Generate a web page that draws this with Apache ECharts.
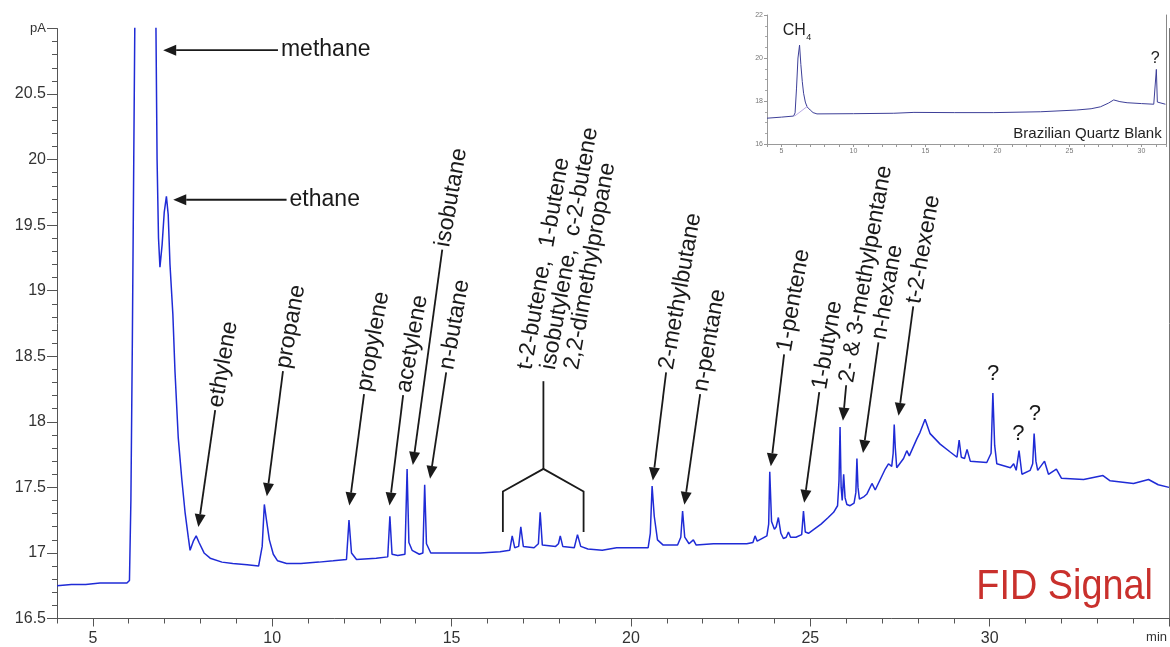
<!DOCTYPE html>
<html>
<head>
<meta charset="utf-8">
<script src="https://cdn.jsdelivr.net/npm/echarts@6/dist/echarts.min.js"></script>
<style>
  html, body { margin: 0; padding: 0; background: #fff; }
  #chart { width: 1170px; height: 647px; }
</style>
</head>
<body>
<div id="chart"></div>
<script>
const FONT = '"Liberation Sans", Arial, Helvetica, sans-serif';

// FID chromatogram: retention time (min) and detector signal (pA)
const fidTime = [
  4.0, 4.4, 4.8, 5.2, 5.6, 5.95, 6.02, 6.06, 6.1, 6.14, 6.18, 6.45, 6.74, 6.79, 6.83, 6.87, 6.93, 6.99,
  7.05, 7.1, 7.15, 7.23, 7.29, 7.38, 7.48, 7.57, 7.66, 7.71, 7.8, 7.88, 7.96, 8.1, 8.27, 8.6, 8.9, 9.3,
  9.62, 9.72, 9.78, 9.84, 9.92, 10.03, 10.15, 10.4, 10.8, 11.3, 11.7, 12.07, 12.14, 12.21, 12.35, 12.9,
  13.22, 13.28, 13.34, 13.5, 13.7, 13.76, 13.81, 13.9, 14.1, 14.2, 14.25, 14.3, 14.42, 14.8, 15.3, 15.8,
  16.35, 16.62, 16.69, 16.76, 16.87, 16.93, 17.0, 17.3, 17.42, 17.47, 17.53, 17.9, 17.98, 18.03, 18.1,
  18.42, 18.51, 18.6, 18.8, 19.2, 19.6, 20.0, 20.48, 20.54, 20.59, 20.65, 20.74, 20.9, 21.3, 21.39, 21.44,
  21.5, 21.62, 21.74, 21.82, 22.3, 22.8, 23.23, 23.4, 23.46, 23.52, 23.79, 23.84, 23.87, 23.92, 24.0,
  24.05, 24.11, 24.18, 24.25, 24.33, 24.39, 24.45, 24.6, 24.76, 24.81, 24.86, 24.95, 25.1, 25.3, 25.5,
  25.65, 25.76, 25.8, 25.83, 25.86, 25.89, 25.93, 25.97, 26.02, 26.11, 26.22, 26.27, 26.3, 26.33, 26.37,
  26.5, 26.58, 26.72, 26.81, 26.95, 27.09, 27.18, 27.27, 27.31, 27.34, 27.37, 27.41, 27.6, 27.69, 27.76,
  27.97, 28.06, 28.2, 28.34, 28.62, 28.9, 29.09, 29.15, 29.21, 29.3, 29.37, 29.46, 29.92, 30.04, 30.09,
  30.14, 30.2, 30.58, 30.67, 30.74, 30.82, 30.9, 31.13, 31.2, 31.24, 31.29, 31.34, 31.53, 31.64, 31.86,
  32.0, 32.62, 33.16, 33.36, 34.01, 34.43, 34.7, 35.0
];
const fidSignal = [
  16.75, 16.76, 16.76, 16.77, 16.77, 16.77, 16.79, 17.4, 18.6, 20.0, 21.4, 26.0, 21.6, 20.0, 19.4, 19.18, 19.35, 19.6,
  19.72, 19.58, 19.2, 18.82, 18.38, 17.88, 17.56, 17.31, 17.12, 17.02, 17.09, 17.13, 17.08, 17.0, 16.96, 16.93, 16.92, 16.91,
  16.9, 17.05, 17.37, 17.25, 17.1, 16.99, 16.94, 16.92, 16.92, 16.93, 16.94, 16.95, 17.25, 17.0, 16.95, 16.96,
  16.97, 17.28, 16.99, 16.98, 16.99, 17.64, 17.08, 17.02, 16.99, 17.0, 17.52, 17.07, 17.0, 17.0, 17.0, 17.0,
  17.01, 17.02, 17.13, 17.04, 17.05, 17.2, 17.05, 17.04, 17.07, 17.31, 17.06, 17.05, 17.07, 17.13, 17.05,
  17.04, 17.14, 17.05, 17.03, 17.02, 17.04, 17.04, 17.04, 17.15, 17.51, 17.28, 17.1, 17.06, 17.06, 17.12, 17.32,
  17.12, 17.07, 17.1, 17.06, 17.07, 17.07, 17.07, 17.08, 17.13, 17.09, 17.13, 17.22, 17.62, 17.24, 17.18,
  17.2, 17.27, 17.15, 17.11, 17.12, 17.16, 17.12, 17.12, 17.14, 17.32, 17.16, 17.15, 17.18, 17.22, 17.27,
  17.31, 17.36, 17.55, 17.96, 17.5, 17.4, 17.6, 17.42, 17.37, 17.36, 17.38, 17.46, 17.72, 17.5, 17.41,
  17.43, 17.45, 17.53, 17.48, 17.56, 17.64, 17.68, 17.66, 17.76, 17.98, 17.8, 17.65, 17.72, 17.78, 17.74,
  17.87, 17.92, 18.02, 17.91, 17.83, 17.77, 17.73, 17.86, 17.73, 17.72, 17.79, 17.7, 17.69, 17.76, 18.22,
  17.82, 17.68, 17.65, 17.68, 17.63, 17.78, 17.6, 17.63, 17.68, 17.91, 17.7, 17.63, 17.7, 17.6, 17.64,
  17.57, 17.56, 17.59, 17.55, 17.53, 17.56, 17.52, 17.5
];

// Blank run on Brazilian quartz
const blankTime = [
  4.0, 5.0, 5.85, 5.95, 6.05, 6.15, 6.26, 6.35, 6.45, 6.54, 6.66, 6.78, 7.0, 7.2, 7.47, 10.0, 12.8, 14.2,
  17.0, 19.74, 23.0, 25.5, 26.5, 27.15, 27.7, 28.07, 28.5, 29.0, 30.0, 30.85, 30.98, 31.03, 31.1, 31.2, 31.66
];
const blankSignal = [
  17.2, 17.25, 17.3, 17.45, 18.6, 20.0, 20.6, 19.7, 18.9, 18.36, 17.95, 17.73, 17.58, 17.46, 17.4, 17.41, 17.43, 17.47,
  17.46, 17.46, 17.5, 17.58, 17.64, 17.73, 17.9, 18.05, 17.97, 17.92, 17.88, 17.85, 17.9, 19.47, 17.95, 17.86, 17.85
];
// integration baseline under the CH4 peak of the blank
const blankBaseTime = [5.92, 6.84];
const blankBaseSignal = [17.3, 17.77];

const mainMajorTicks = [5, 10, 15, 20, 25, 30, 35];
const mainTickLabels = [5, 10, 15, 20, 25, 30];

const zip = (xs, ys) => xs.map((x, i) => [x, ys[i]]);

// Peak annotations: arrow from tail to tip, both in (min, pA)
const peakLabels = [
  { text: 'methane', tail: [10.16, 20.835], tip: [6.96, 20.835], angle: 0 },
  { text: 'ethane', tail: [10.40, 19.694], tip: [7.24, 19.694], angle: 0 },
  { text: 'ethylene', tail: [8.41, 18.09], tip: [7.94, 17.197], angle: 80 },
  { text: 'propane', tail: [10.30, 18.386], tip: [9.85, 17.433], angle: 80 },
  { text: 'propylene', tail: [12.56, 18.211], tip: [12.15, 17.362], angle: 80 },
  { text: 'acetylene', tail: [13.65, 18.203], tip: [13.27, 17.362], angle: 80 },
  { text: 'isobutane', tail: [14.74, 19.314], tip: [13.92, 17.671], angle: 80 },
  { text: 'n-butane', tail: [14.85, 18.378], tip: [14.40, 17.565], angle: 80 },
  { text: '2-methylbutane', tail: [20.98, 18.378], tip: [20.61, 17.552], angle: 80 },
  { text: 'n-pentane', tail: [21.93, 18.211], tip: [21.49, 17.367], angle: 80 },
  { text: '1-pentene', tail: [24.27, 18.515], tip: [23.90, 17.661], angle: 80 },
  { text: '1-butyne', tail: [25.25, 18.226], tip: [24.83, 17.382], angle: 80 },
  { text: '2- & 3-methylpentane', tail: [26.00, 18.279], tip: [25.91, 18.008], angle: 80 },
  { text: 'n-hexane', tail: [26.90, 18.606], tip: [26.47, 17.762], angle: 80 },
  { text: 't-2-hexene', tail: [27.87, 18.88], tip: [27.46, 18.046], angle: 80 }
];
const butenesLines = [
  { text: 't-2-butene,  1-butene', at: [17.05, 18.40] },
  { text: 'isobutylene,  c-2-butene', at: [17.70, 18.40] },
  { text: '2,2-dimethylpropane', at: [18.35, 18.40] }
];
const butenesBracket = [[16.43, 17.16], [16.43, 17.468], [17.56, 17.641], [18.68, 17.468], [18.68, 17.16]];
const butenesStem = [[17.56, 17.641], [17.56, 18.31]];
const unknownMarks = [[30.10, 18.363], [30.80, 17.907], [31.26, 18.059]];

const axisGray = '#555';
const option = {
  animation: false,
  backgroundColor: '#fff',
  grid: [
    { left: 57, right: 1, top: 28.5, bottom: 28.5 },
    { left: 767, right: 4, top: 15, bottom: 503 }
  ],
  xAxis: [
    { // minor minute ticks
      gridIndex: 0, type: 'value', position: 'bottom', min: 4, max: 35, interval: 1,
      axisLine: { show: true, lineStyle: { color: axisGray, width: 1 } },
      axisTick: { show: true, length: 5, lineStyle: { color: axisGray } },
      axisLabel: { show: false }, splitLine: { show: false }
    },
    { // major ticks with labels
      gridIndex: 0, type: 'value', position: 'bottom', min: 4, max: 35,
      axisLine: { show: false },
      axisTick: { show: true, length: 8, customValues: mainMajorTicks, lineStyle: { color: axisGray } },
      axisLabel: { show: true, customValues: mainTickLabels, fontSize: 16, color: '#333', margin: 12, fontFamily: FONT },
      splitLine: { show: false }
    },
    { // blank inset
      gridIndex: 1, type: 'value', position: 'bottom', min: 4, max: 31.7, interval: 1,
      axisLine: { show: true, lineStyle: { color: '#999', width: 1 } },
      axisTick: { show: true, length: 3, lineStyle: { color: '#999' } },
      axisLabel: { fontSize: 7, color: '#777', margin: 4, fontFamily: FONT,
        formatter: v => (v % 5 === 0 ? String(v) : '') },
      splitLine: { show: false }
    }
  ],
  yAxis: [
    {
      gridIndex: 0, type: 'value', position: 'left', min: 16.5, max: 21, interval: 0.5,
      axisLine: { show: true, lineStyle: { color: axisGray, width: 1 } },
      axisTick: { show: true, length: 10, lineStyle: { color: axisGray } },
      minorTick: { show: true, splitNumber: 5, length: 5, lineStyle: { color: axisGray } },
      axisLabel: {
        fontSize: 16, color: '#333', margin: 11, fontFamily: FONT,
        formatter: v => (v === 21 ? '{u|pA}' : String(v)),
        rich: { u: { fontSize: 13, color: '#333', fontFamily: FONT } }
      },
      splitLine: { show: false }
    },
    {
      gridIndex: 0, type: 'value', position: 'right', min: 16.5, max: 21,
      axisLine: { show: true, lineStyle: { color: '#777', width: 1 } },
      axisTick: { show: false }, axisLabel: { show: false }, splitLine: { show: false }
    },
    {
      gridIndex: 1, type: 'value', position: 'left', min: 16, max: 22, interval: 2,
      axisLine: { show: true, lineStyle: { color: '#999', width: 1 } },
      axisTick: { show: true, length: 3, lineStyle: { color: '#999' } },
      minorTick: { show: true, splitNumber: 4, length: 2, lineStyle: { color: '#aaa' } },
      axisLabel: { fontSize: 7, color: '#777', margin: 4, fontFamily: FONT },
      splitLine: { show: false }
    },
    {
      gridIndex: 1, type: 'value', position: 'right', min: 16, max: 22,
      axisLine: { show: true, lineStyle: { color: '#888', width: 1 } },
      axisTick: { show: false }, axisLabel: { show: false }, splitLine: { show: false }
    }
  ],
  series: [
    {
      name: 'FID Signal', type: 'line', xAxisIndex: 0, yAxisIndex: 0,
      data: zip(fidTime, fidSignal), symbol: 'none', clip: true, z: 3,
      lineStyle: { color: '#1f2bd6', width: 1.5 }
    },
    {
      name: 'Brazilian Quartz Blank', type: 'line', xAxisIndex: 2, yAxisIndex: 2,
      data: zip(blankTime, blankSignal), symbol: 'none', clip: true,
      lineStyle: { color: '#3d3f98', width: 1 }
    },
    {
      name: 'blank baseline', type: 'line', xAxisIndex: 2, yAxisIndex: 2,
      data: zip(blankBaseTime, blankBaseSignal), symbol: 'none',
      lineStyle: { color: '#b9a9e6', width: 1 }
    }
  ]
};

const chart = echarts.init(document.getElementById('chart'), null, { renderer: 'canvas' });
chart.setOption(option);

const toMain = p => chart.convertToPixel({ seriesIndex: 0 }, p);
const toInset = p => chart.convertToPixel({ seriesIndex: 1 }, p);
const ink = '#1a1a1a';
const graphics = [];

function addArrow(tail, tip) {
  const dx = tip[0] - tail[0], dy = tip[1] - tail[1];
  const len = Math.hypot(dx, dy);
  const ux = dx / len, uy = dy / len;
  const head = 13, half = 5.5;
  const bx = tip[0] - ux * head, by = tip[1] - uy * head;
  graphics.push({
    type: 'line', silent: true,
    shape: { x1: tail[0], y1: tail[1], x2: bx, y2: by },
    style: { stroke: ink, lineWidth: 1.8 }
  });
  graphics.push({
    type: 'polygon', silent: true,
    shape: { points: [[tip[0], tip[1]], [bx - uy * half, by + ux * half], [bx + uy * half, by - ux * half]] },
    style: { fill: ink }
  });
}

function addRotatedText(text, start, angleDeg, size, gap) {
  const a = angleDeg * Math.PI / 180;
  graphics.push({
    type: 'text', silent: true,
    x: start[0] + Math.cos(a) * gap, y: start[1] - Math.sin(a) * gap, rotation: a,
    style: { text, font: `${size}px ${FONT}`, fill: ink, align: 'left', verticalAlign: 'middle' }
  });
}

peakLabels.forEach(p => {
  const tail = toMain(p.tail), tip = toMain(p.tip);
  addArrow(tail, tip);
  addRotatedText(p.text, tail, p.angle, 23, 3);
});

butenesLines.forEach(l => addRotatedText(l.text, toMain(l.at), 80, 23, 0));
graphics.push({
  type: 'polyline', silent: true,
  shape: { points: butenesBracket.map(toMain) },
  style: { stroke: ink, lineWidth: 1.8, fill: null }
});
graphics.push({
  type: 'polyline', silent: true,
  shape: { points: butenesStem.map(toMain) },
  style: { stroke: ink, lineWidth: 1.8, fill: null }
});

unknownMarks.forEach(m => {
  const p = toMain(m);
  graphics.push({
    type: 'text', silent: true, x: p[0], y: p[1],
    style: { text: '?', font: `22px ${FONT}`, fill: ink, align: 'center', verticalAlign: 'middle' }
  });
});

// axis unit on the time axis
const axisEnd = toMain([35, 16.5]);
graphics.push({
  type: 'text', silent: true, x: axisEnd[0] - 2, y: axisEnd[1] + 19,
  style: { text: 'min', font: `13px ${FONT}`, fill: '#333', align: 'right', verticalAlign: 'middle' }
});

// trace title
graphics.push({
  type: 'text', silent: true, x: 1153, y: 587, scaleX: 0.88,
  style: { text: 'FID Signal', font: `43px ${FONT}`, fill: '#c9302c', align: 'right', verticalAlign: 'middle' }
});

// inset labels
const ch = toInset([5.09, 21.26]);
graphics.push({
  type: 'text', silent: true, x: ch[0], y: ch[1],
  style: { text: 'CH', font: `16px ${FONT}`, fill: '#222', align: 'left', verticalAlign: 'middle' }
});
const sub = toInset([6.72, 20.93]);
graphics.push({
  type: 'text', silent: true, x: sub[0], y: sub[1],
  style: { text: '4', font: `9px ${FONT}`, fill: '#222', align: 'left', verticalAlign: 'middle' }
});
const q = toInset([30.95, 19.99]);
graphics.push({
  type: 'text', silent: true, x: q[0], y: q[1],
  style: { text: '?', font: `16px ${FONT}`, fill: '#222', align: 'center', verticalAlign: 'middle' }
});
const blankTitle = toInset([31.4, 16.47]);
graphics.push({
  type: 'text', silent: true, x: blankTitle[0], y: blankTitle[1],
  style: { text: 'Brazilian Quartz Blank', font: `15px ${FONT}`, fill: '#222', align: 'right', verticalAlign: 'middle' }
});

chart.setOption({ graphic: { elements: graphics } });
</script>
</body>
</html>
